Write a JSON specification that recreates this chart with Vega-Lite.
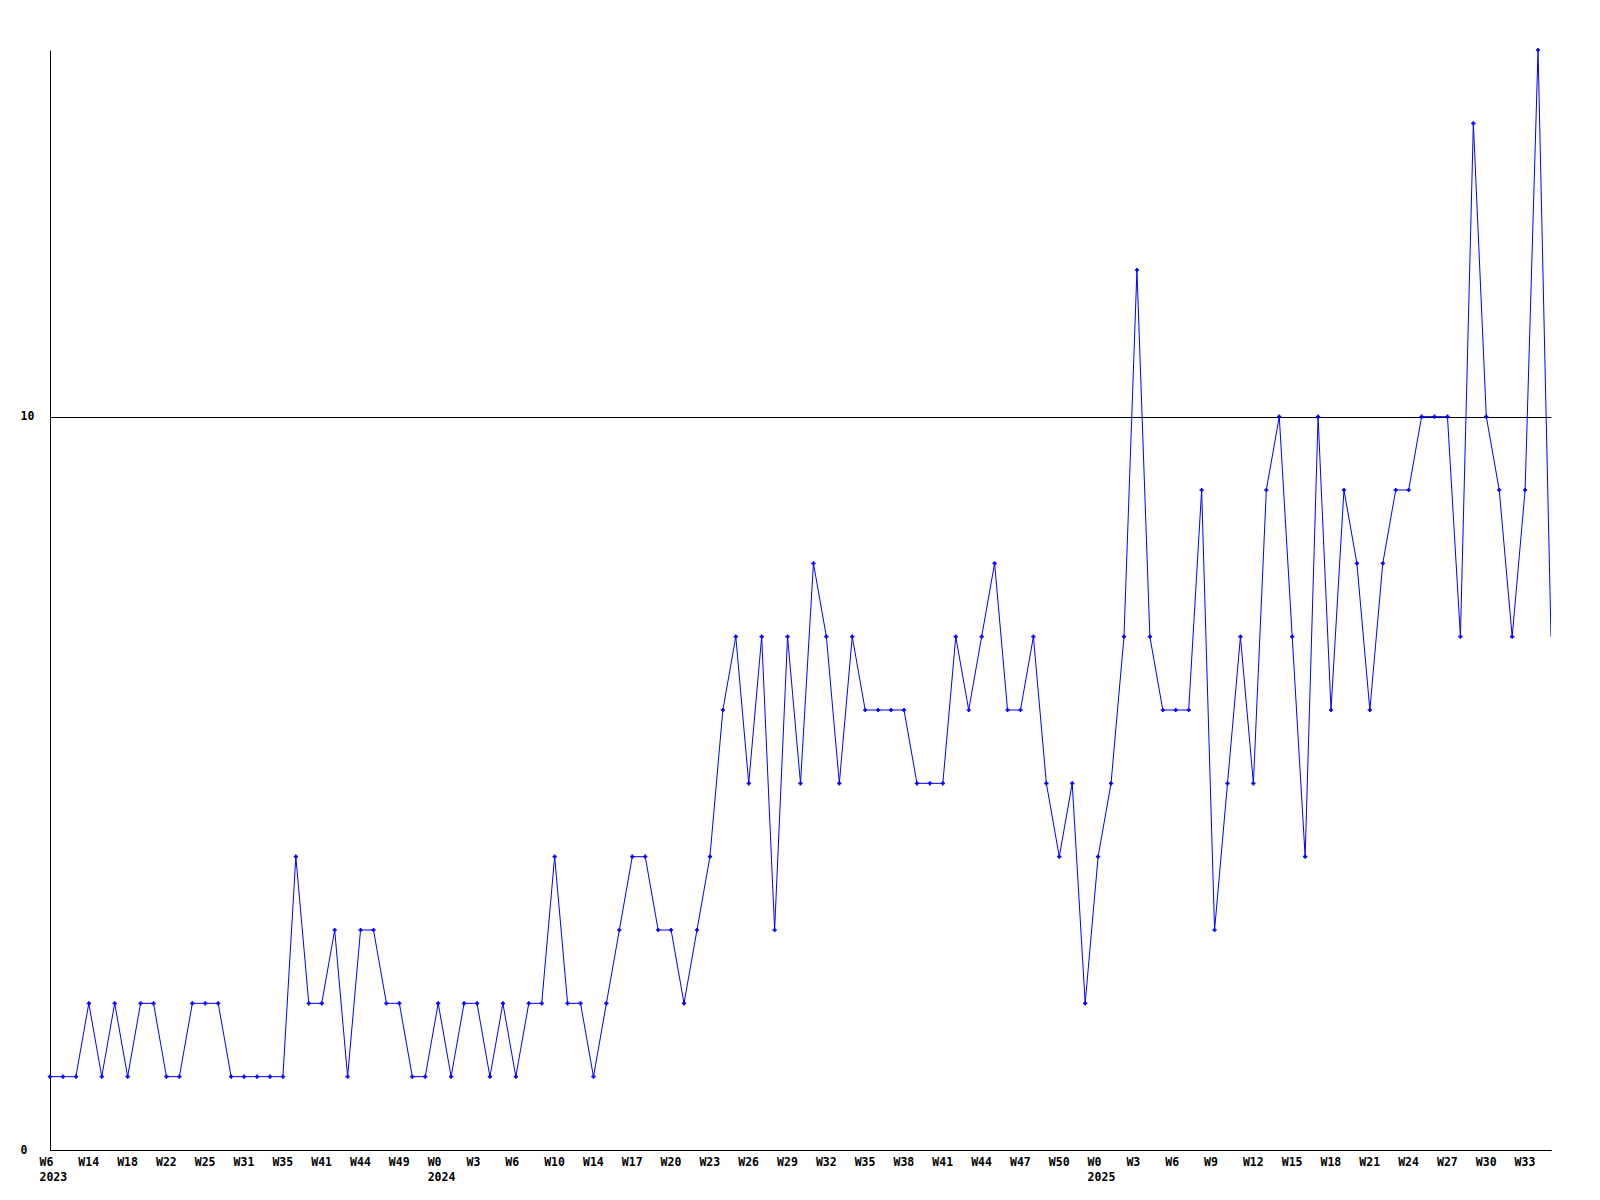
{
  "$schema": "https://vega.github.io/schema/vega-lite/v6.json",
  "autosize": "none",
  "padding": {"left": 50, "top": 50, "right": 49, "bottom": 50},
  "width": 1501,
  "height": 1100,
  "background": "white",
  "config": {"view": {"stroke": null}},
  "data": {"values": [
    {"i":0,"v":1},{"i":1,"v":1},{"i":2,"v":1},{"i":3,"v":2},{"i":4,"v":1},{"i":5,"v":2},{"i":6,"v":1},{"i":7,"v":2},{"i":8,"v":2},{"i":9,"v":1},
    {"i":10,"v":1},{"i":11,"v":2},{"i":12,"v":2},{"i":13,"v":2},{"i":14,"v":1},{"i":15,"v":1},{"i":16,"v":1},{"i":17,"v":1},{"i":18,"v":1},{"i":19,"v":4},
    {"i":20,"v":2},{"i":21,"v":2},{"i":22,"v":3},{"i":23,"v":1},{"i":24,"v":3},{"i":25,"v":3},{"i":26,"v":2},{"i":27,"v":2},{"i":28,"v":1},{"i":29,"v":1},
    {"i":30,"v":2},{"i":31,"v":1},{"i":32,"v":2},{"i":33,"v":2},{"i":34,"v":1},{"i":35,"v":2},{"i":36,"v":1},{"i":37,"v":2},{"i":38,"v":2},{"i":39,"v":4},
    {"i":40,"v":2},{"i":41,"v":2},{"i":42,"v":1},{"i":43,"v":2},{"i":44,"v":3},{"i":45,"v":4},{"i":46,"v":4},{"i":47,"v":3},{"i":48,"v":3},{"i":49,"v":2},
    {"i":50,"v":3},{"i":51,"v":4},{"i":52,"v":6},{"i":53,"v":7},{"i":54,"v":5},{"i":55,"v":7},{"i":56,"v":3},{"i":57,"v":7},{"i":58,"v":5},{"i":59,"v":8},
    {"i":60,"v":7},{"i":61,"v":5},{"i":62,"v":7},{"i":63,"v":6},{"i":64,"v":6},{"i":65,"v":6},{"i":66,"v":6},{"i":67,"v":5},{"i":68,"v":5},{"i":69,"v":5},
    {"i":70,"v":7},{"i":71,"v":6},{"i":72,"v":7},{"i":73,"v":8},{"i":74,"v":6},{"i":75,"v":6},{"i":76,"v":7},{"i":77,"v":5},{"i":78,"v":4},{"i":79,"v":5},
    {"i":80,"v":2},{"i":81,"v":4},{"i":82,"v":5},{"i":83,"v":7},{"i":84,"v":12},{"i":85,"v":7},{"i":86,"v":6},{"i":87,"v":6},{"i":88,"v":6},{"i":89,"v":9},
    {"i":90,"v":3},{"i":91,"v":5},{"i":92,"v":7},{"i":93,"v":5},{"i":94,"v":9},{"i":95,"v":10},{"i":96,"v":7},{"i":97,"v":4},{"i":98,"v":10},{"i":99,"v":6},
    {"i":100,"v":9},{"i":101,"v":8},{"i":102,"v":6},{"i":103,"v":8},{"i":104,"v":9},{"i":105,"v":9},{"i":106,"v":10},{"i":107,"v":10},{"i":108,"v":10},{"i":109,"v":7},
    {"i":110,"v":14},{"i":111,"v":10},{"i":112,"v":9},{"i":113,"v":7},{"i":114,"v":9},{"i":115,"v":15},{"i":116,"v":7}
  ]},
  "encoding": {
    "x": {
      "field": "i", "type": "quantitative",
      "scale": {"domain": [0, 116], "nice": false, "zero": false},
      "axis": {
        "title": null,
        "values": [0,3,6,9,12,15,18,21,24,27,30,33,36,39,42,45,48,51,54,57,60,63,66,69,72,75,78,81,84,87,90,93,96,99,102,105,108,111,114],
        "labelExpr": "[['W6','2023'],'W14','W18','W22','W25','W31','W35','W41','W44','W49',['W0','2024'],'W3','W6','W10','W14','W17','W20','W23','W26','W29','W32','W35','W38','W41','W44','W47','W50',['W0','2025'],'W3','W6','W9','W12','W15','W18','W21','W24','W27','W30','W33'][round(datum.value/3)]",
        "labelAlign": "left",
        "labelBaseline": "top",
        "labelOffset": -11,
        "labelPadding": 6,
        "labelLineHeight": 15,
        "labelOverlap": false,
        "labelFlush": false,
        "labelBound": false,
        "ticks": false,
        "grid": false,
        "domainColor": "black",
        "domainWidth": 1,
        "labelFont": "DejaVu Sans Mono",
        "labelFontWeight": "bold",
        "labelFontSize": 11.5,
        "labelColor": "black"
      }
    },
    "y": {
      "field": "v", "type": "quantitative",
      "scale": {"domain": [0, 15], "nice": false},
      "axis": {
        "title": null,
        "values": [0, 10],
        "grid": true,
        "gridColor": "black",
        "gridOpacity": 1,
        "gridWidth": 1,
        "ticks": false,
        "labelAlign": "left",
        "labelPadding": 30,
        "labelBaseline": "middle",
        "domainColor": "black",
        "domainWidth": 1,
        "labelFont": "DejaVu Sans Mono",
        "labelFontWeight": "bold",
        "labelFontSize": 11.5,
        "labelColor": "black"
      }
    }
  },
  "layer": [
    {"mark": {"type": "line", "color": "#0000ff", "strokeWidth": 1, "clip": true}},
    {
      "transform": [{"filter": "datum.i < 116"}],
      "mark": {"type": "point", "shape": "cross", "filled": true, "size": 18, "color": "#0000ff", "opacity": 1}
    }
  ]
}
